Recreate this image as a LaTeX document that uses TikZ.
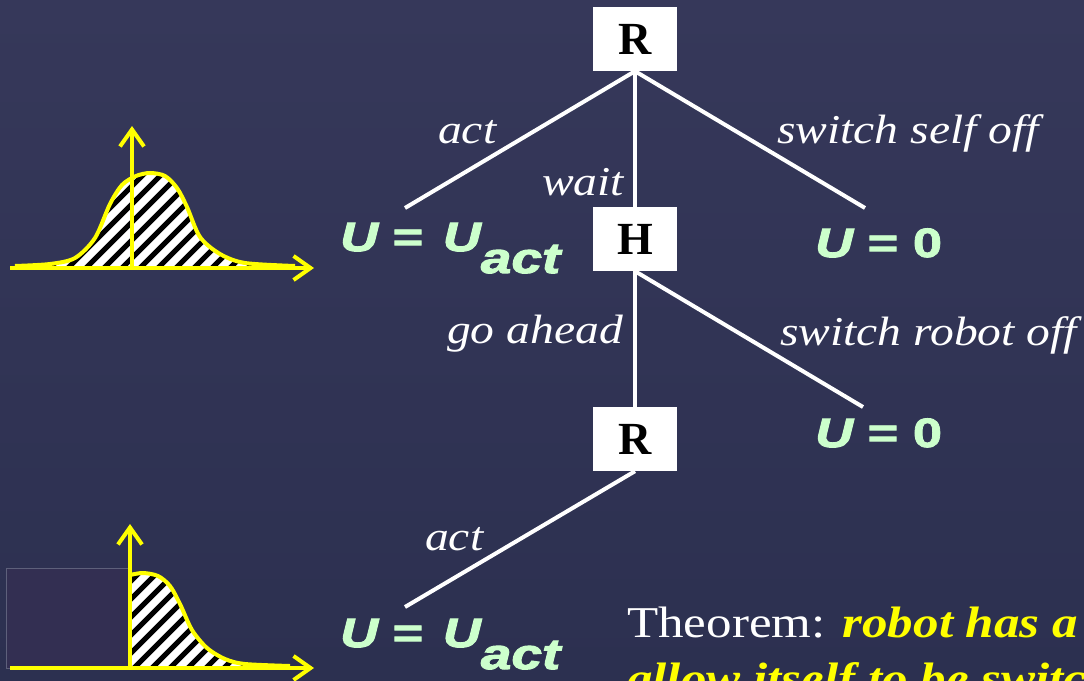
\documentclass[tikz,border=0pt]{standalone}
\usepackage{fontspec}
\usetikzlibrary{arrows.meta,positioning}

\newfontfamily\movefont[FakeStretch=1.16]{Liberation Serif}
\newfontfamily\boxfont{Liberation Serif}
\newfontfamily\ufont[FakeStretch=1.28,BoldFeatures={FakeBold=2},BoldItalicFeatures={FakeBold=2.5}]{Liberation Sans}

\definecolor{slidebg}{RGB}{54,56,90}
\definecolor{slidebgdark}{RGB}{44,48,80}
\definecolor{ugreen}{RGB}{204,255,204}
\definecolor{plotyellow}{RGB}{255,255,0}
\definecolor{maskbox}{RGB}{51,47,82}

\begin{document}
\begin{tikzpicture}[
    x=1pt, y=-1pt,
    >={Straight Barb[length=17pt,width=24pt]},
    player/.style={
        rectangle,
        fill=white,
        minimum width=84pt,
        minimum height=64pt,
        inner sep=0pt,
        font=\boxfont\bfseries\fontsize{46}{46}\selectfont
    },
    move/.style={
        anchor=base west,
        inner sep=0pt,
        text=white,
        font=\movefont\itshape\fontsize{41}{41}\selectfont
    },
    utility/.style={
        anchor=base west,
        inner sep=0pt,
        text=ugreen,
        font=\ufont\bfseries\fontsize{41}{41}\selectfont
    },
    branch/.style={draw=white, line width=4pt},
    axis/.style={draw=plotyellow, line width=4pt, ->},
    belief/.style={draw=plotyellow, line width=4pt},
    hatch/.style={draw=black, line width=5pt}
]

% slide background
\shade[top color=slidebg, bottom color=slidebgdark] (0,0) rectangle (1084,680);
\useasboundingbox (0,0) rectangle (1084,680);

% prior belief (upper plot)
\begin{scope}
    \clip plot[smooth] coordinates {(15,266) (50,264) (75,258) (95,238) (110,204) (122,185) (136,176) (150,173) (165,176) (177,188) (187,207) (200,237) (220,254) (245,263) (295,266)} -- cycle;
    \fill[white] (0,120) rectangle (320,280);
    \foreach \k in {-160,-142,...,320}
        \draw[hatch] (\k,280) -- ++(170,-170);
\end{scope}
\draw[belief] plot[smooth] coordinates {(15,266) (50,264) (75,258) (95,238) (110,204) (122,185) (136,176) (150,173) (165,176) (177,188) (187,207) (200,237) (220,254) (245,263) (295,266)};
\draw[axis] (10,268) -- (314,268);
\draw[axis] (132,268) -- (132,126);

% belief after the human lets it go ahead (lower plot)
\fill[maskbox, draw=slidebg!80!white, line width=0.6pt] (6,568) rectangle (130,668);
\begin{scope}
    \clip (130,668) -- plot[smooth] coordinates {(130,575) (143,573) (158,576) (170,586) (180,604) (192,630) (207,648) (225,659) (245,664) (290,666)} -- (290,668) -- cycle;
    \fill[white] (120,560) rectangle (320,680);
    \foreach \k in {-40,-22,...,320}
        \draw[hatch] (\k,680) -- ++(170,-170);
\end{scope}
\draw[belief] plot[smooth] coordinates {(130,575) (143,573) (158,576) (170,586) (180,604) (192,630) (207,648) (225,659) (245,664) (290,666)};
\draw[axis] (10,668) -- (314,668);
\draw[axis] (130,668) -- (130,524);

% free ends of the branches
\coordinate (actend)      at (405,208);
\coordinate (selfoffend)  at (865,208);
\coordinate (robotoffend) at (863,407);
\coordinate (actendlow)   at (405,607);

% decision nodes
\node[player] (rtop) at (635,39)  {R};
\node[player] (hum)  at (635,239) {H};
\node[player] (rbot) at (635,439) {R};

% branches
\draw[branch] (rtop.south) -- (actend);
\draw[branch] (rtop.south) -- (hum.north);
\draw[branch] (rtop.south) -- (selfoffend);
\draw[branch] (hum.south) -- (rbot.north);
\draw[branch] (hum.south) -- (robotoffend);
\draw[branch] (rbot.south) -- (actendlow);
\node[player] at (rtop) {R};
\node[player] at (hum) {H};
\node[player] at (rbot) {R};

% move labels
\node[move] (lact)      at (438,143) {act};
\node[move] (lwait)     at (542,195) {wait};
\node[move] (lselfoff)  at (777,143) {switch self off};
\node[move] (lgo)       at (447,343) {go ahead};
\node[move] (lrobotoff) at (780,345) {switch robot off};
\node[move] (lactlow)   at (425,550) {act};

% payoffs
\node[utility] (uact)     at (340,251) {\itshape U \upshape= \hspace{5pt}\itshape U\raisebox{-22pt}{\fontsize{43}{43}\selectfont act}};
\node[utility] (uzero)    at (815,257) {\itshape U \upshape= 0};
\node[utility] (uzerolow) at (815,447) {\itshape U \upshape= 0};
\node[utility] (uactlow)  at (340,647) {\itshape U \upshape= \hspace{5pt}\itshape U\raisebox{-22pt}{\fontsize{43}{43}\selectfont act}};

% theorem
\node[anchor=base west, inner sep=0pt, text=white, font=\movefont\fontsize{44}{44}\selectfont] (thm) at (627,637)
    {Theorem: \textcolor{plotyellow}{\bfseries\itshape robot has a positive incentive}};
\node[anchor=base west, inner sep=0pt, text=plotyellow, font=\movefont\bfseries\itshape\fontsize{44}{44}\selectfont] (thmcont) at (627,693)
    {allow itself to be switched off};

\end{tikzpicture}
\end{document}
